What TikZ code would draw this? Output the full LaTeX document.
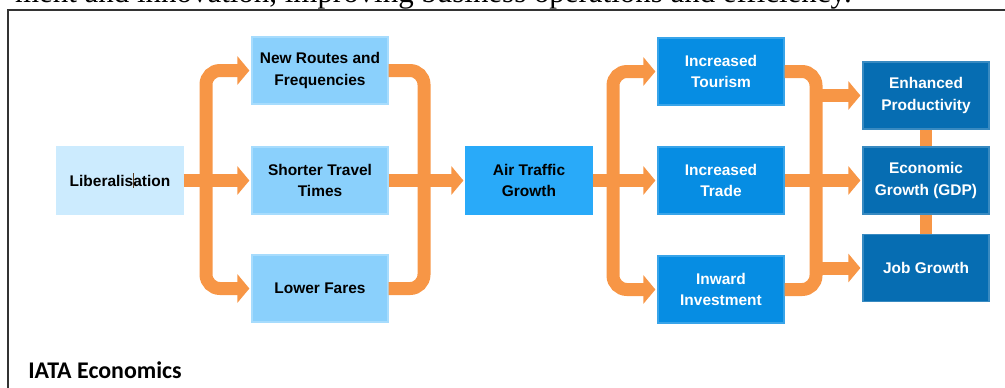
\documentclass[tikz,border=0pt]{standalone}
\usepackage{fontspec}
\setmainfont{Liberation Serif}
\newfontfamily\boxfont{Liberation Sans}
\newfontfamily\notefont{Carlito}
\usetikzlibrary{arrows.meta}
\definecolor{pipeorange}{HTML}{F79646}
\definecolor{paleblue}{HTML}{CCEBFE}
\definecolor{lightblue}{HTML}{8AD0FC}
\definecolor{skyblue}{HTML}{29AAF9}
\definecolor{midblue}{HTML}{068DE3}
\definecolor{darkblue}{HTML}{066DB2}
\definecolor{cursorbrown}{HTML}{5A3A20}
\begin{document}
\begin{tikzpicture}[x=0.25mm,y=-0.25mm,
        box/.style={minimum width=31.5mm,minimum height=16.75mm,inner sep=0pt,align=center,
            line width=0.3mm,font=\boxfont\bfseries\fontsize{11}{15.5}\selectfont},
        palebox/.style={box,fill=paleblue,draw=paleblue},
        lightbox/.style={box,fill=lightblue,draw=lightblue!75!white,minimum width=34mm},
        skybox/.style={box,fill=skyblue,draw=skyblue},
        midbox/.style={box,fill=midblue,draw=midblue!80!white,text=white},
        darkbox/.style={box,fill=darkblue,draw=darkblue!80!white,text=white},
        pipe/.style={draw=pipeorange,line width=3.25mm,rounded corners=3.5mm},
        flow/.style={pipe,-{Triangle[width=7mm,length=3mm]},shorten >=0.5mm},
        link/.style={draw=pipeorange,line width=3mm}]

                    \useasboundingbox (0,0) rectangle (1005,387);
                    \begin{scope}
                        \clip (0,0) rectangle (1005,387);
                        \node[anchor=base east,inner sep=0pt,font=\fontsize{22}{26}\selectfont] (prose) at (852,2.8) {ment and innovation, improving business operations and efficiency.};
                        \draw[line width=0.4mm,black!80] (1020,10) -- (8,10) -- (8,400);
                    \end{scope}

                    \node[palebox] (lib) at (120,180.5) {Liberalis{\color{cursorbrown}\rule[-1.2pt]{0.6pt}{10.5pt}}\kern-0.6pt ation};

                    \node[lightbox] (nrf) at (320,70.5) {New Routes and\\Frequencies};
                    \node[lightbox] (stt) at (320,180.5) {Shorter Travel\\Times};
                    \node[lightbox] (lwf) at (320,288.5) {Lower Fares};

                    \node[skybox] (atg) at (529,180.5) {Air Traffic\\Growth};

                    \node[midbox] (tour) at (721,71.5) {Increased\\Tourism};
                    \node[midbox] (trade) at (721,180.5) {Increased\\Trade};
                    \node[midbox] (invest) at (721,289.5) {Inward\\Investment};

                    \node[darkbox] (prod) at (926,95.5) {Enhanced\\Productivity};
                    \node[darkbox] (gdp) at (926,180.5) {Economic\\Growth (GDP)};
                    \node[darkbox] (jobs) at (926,268) {Job Growth};

                        \coordinate (split1) at (206,180.5);
                        \coordinate (merge1) at (424,180.5);
                        \coordinate (split2) at (613,180.5);
                        \coordinate (merge2) at (816,180.5);

                    \draw[flow] (split1) |- (nrf.west);
                    \draw[flow] (split1) |- (lwf.west);
                    \draw[flow] (lib) -- (stt);
                    \draw[pipe] (nrf.east) -| (merge1);
                    \draw[pipe] (lwf.east) -| (merge1);
                    \draw[flow] (stt) -- (atg);

                    \draw[flow] (split2) |- (tour.west);
                    \draw[flow] (split2) |- (invest.west);
                    \draw[flow] (atg) -- (trade);
                    \draw[pipe] (tour.east) -| (merge2);
                    \draw[pipe] (invest.east) -| (merge2);
                    \draw[flow] (trade) -- (gdp);
                    \draw[flow] (merge2 |- prod.west) -- (prod.west);
                    \draw[flow] (merge2 |- jobs.west) -- (jobs.west);

                    \draw[link] (prod) -- (gdp);
                    \draw[link] (gdp) -- (jobs);

                    \node[anchor=base west,inner sep=0pt,font=\notefont\bfseries\fontsize{17}{20}\selectfont] (credit) at (28,378) {IATA Economics};

\end{tikzpicture}
\end{document}
